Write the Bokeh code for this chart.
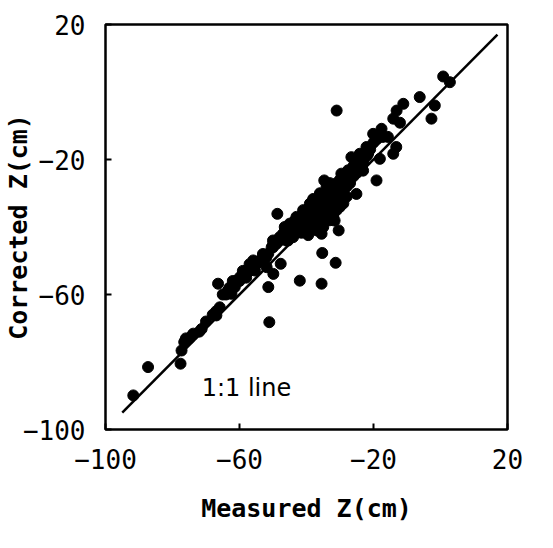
from bokeh.plotting import figure
from bokeh.models import FixedTicker, ColumnDataSource
from bokeh.core.properties import value
from bokeh.embed import file_html
from bokeh.resources import INLINE

# Measured vs corrected Z (cm)
measured = [
    -91.7, -87.3, -77.6, -77.3, -76.5, -73.8, -71.3, -72.0, -66.9, -65.9,
    -66.4, -63.4, -62.4, -61.4, -59.9, -58.4, -55.9, -55.4, -51.9, -49.9,
    -51.4, -51.1, -51.4, -50.4, -49.9, -48.7, -47.7, -47.0, -46.5, -45.5,
    -44.0, -43.5, -42.0, -41.5, -40.5, -39.5, -39.0, -38.0, -37.0, -36.4,
    -35.5, -35.3, -35.5, -34.7, -34.0, -33.0, -32.0, -31.6, -31.3, -31.0,
    -30.4, -30.6, -29.6, -28.6, -27.6, -26.6, -25.1, -24.6, -24.1, -23.1,
    -22.1, -21.6, -20.1, -19.1, -18.1, -17.6, -17.2, -15.7, -14.1, -13.2,
    -14.1, -13.1, -11.1, -12.1, -6.2, -2.7, -1.7, 0.8, 2.8,
    -44, -43, -42, -42, -41, -41, -40, -40, -40, -39, -39, -39, -38, -38, -38,
    -37, -37, -37, -37, -36, -36, -36, -36, -35, -35, -35, -35, -34, -34, -34,
    -34, -33, -33, -33, -33, -32, -32, -32, -32, -31, -31, -31, -30, -30, -30,
    -30, -29, -29, -28, -28, -27, -27, -26, -26, -25, -25, -24, -23, -22, -21,
    -20, -19,
    -47, -46, -46, -45, -44,
    -64, -63, -62, -61, -60, -58, -57, -56, -55, -54, -53, -52, -50, -49, -48, -48,
    -76, -75, -74, -70, -68, -67,
    -41, -38, -36, -34, -33, -37, -35, -33, -31, -32, -29, -28, -43, -45,
    -65, -62, -59, -57, -53, -50,
]
corrected = [
    -89.9, -81.5, -80.5, -76.6, -74.1, -71.6, -70.2, -71.0, -66.2, -63.8,
    -56.8, -58.8, -59.8, -57.8, -54.9, -54.4, -49.9, -52.9, -51.9, -53.9,
    -57.8, -68.2, -47.9, -46.0, -45.0, -36.1, -50.9, -42.0, -40.0, -44.0,
    -42.0, -38.1, -55.9, -41.7, -36.1, -42.4, -33.1, -31.7, -36.1, -39.0,
    -42.0, -47.7, -56.8, -26.2, -34.0, -32.4, -36.1, -38.1, -50.6, -5.5,
    -41.0, -28.3, -24.2, -26.2, -23.2, -19.3, -30.2, -19.3, -18.3, -23.3,
    -16.3, -18.3, -12.4, -26.2, -19.8, -10.9, -13.3, -13.3, -18.3, -16.3,
    -7.9, -5.5, -3.5, -9.1, -1.5, -7.9, -4.0, 4.6, 2.9,
    -40, -39, -38, -40, -37, -39, -36, -38, -40, -35, -37, -39, -34, -36, -38,
    -33, -35, -37, -40, -32, -34, -36, -38, -31, -33, -35, -37, -30, -32, -35,
    -38, -29, -31, -33, -36, -28, -30, -33, -35, -27, -30, -32, -26, -29, -31,
    -34, -27, -30, -25, -28, -24, -27, -22, -25, -21, -24, -20, -21, -19, -17,
    -15, -14,
    -43, -41, -44, -42, -43,
    -60, -58, -58, -56, -56, -55, -53, -52, -51, -50, -50, -49, -46, -45, -43, -44,
    -73, -73, -72, -68, -66, -65,
    -35, -32, -30, -28, -27, -41, -40, -38, -35, -37, -33, -31, -37, -39,
    -60, -56, -53, -51, -48, -44,
]

line_x = [-95, 17]
line_y = [-95, 17]
ticks = [-100, -60, -20, 20]

src = ColumnDataSource(dict(x=measured, y=corrected))

p = figure(
    output_backend="svg", toolbar_location=None,
    frame_width=402, frame_height=405,
    min_border_left=96, min_border_right=37,
    min_border_top=24, min_border_bottom=100,
    x_range=(-100, 20), y_range=(-100, 20),
)
p.background_fill_color = "white"
p.border_fill_color = "white"
p.outline_line_color = "black"
p.outline_line_width = 2.5
p.grid.visible = False

p.line(line_x, line_y, line_color="black", line_width=2.5)
p.scatter("x", "y", source=src, size=11, fill_color="black", line_color="black")

p.text(x=[-71.3], y=[-87.6], text=["1:1 line"], text_font=value("DejaVu Sans"),
       text_font_size="24px", text_color="black", text_baseline="alphabetic")

for ax in (p.xaxis[0], p.yaxis[0]):
    ax.ticker = FixedTicker(ticks=ticks)
    ax.major_tick_in = 6
    ax.major_tick_out = 0
    ax.major_tick_line_width = 2
    ax.minor_tick_line_color = None
    ax.axis_line_color = None
    ax.major_label_text_font = "DejaVu Sans Mono"
    ax.major_label_text_font_size = "26px"
    ax.major_label_text_color = "black"
    ax.axis_label_text_font = "DejaVu Sans Mono"
    ax.axis_label_text_font_size = "25px"
    ax.axis_label_text_font_style = "bold"
    ax.axis_label_text_color = "black"

p.xaxis.axis_label = "Measured Z(cm)"
p.yaxis.axis_label = "Corrected Z(cm)"
p.xaxis.major_label_standoff = 19
p.xaxis.axis_label_standoff = 22
p.yaxis.major_label_standoff = 20
p.yaxis.axis_label_standoff = -13

open("out.html", "w").write(file_html(p, INLINE))
